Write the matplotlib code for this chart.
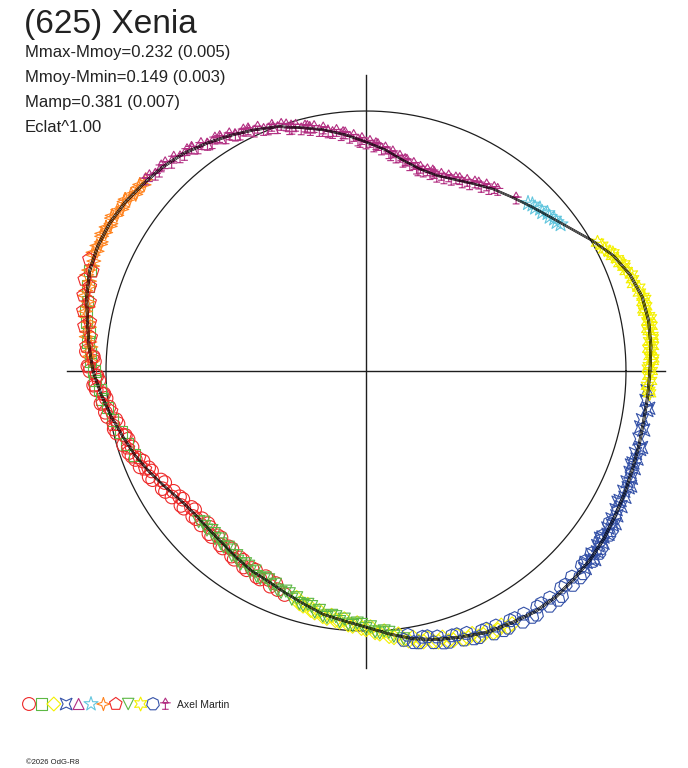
import numpy as np
import matplotlib
matplotlib.use("Agg")
import matplotlib.pyplot as plt
from matplotlib.path import Path

plt.rcParams['font.family'] = ['Liberation Sans', 'DejaVu Sans']

# ---------------- texts ----------------
title = "(625) Xenia"
stats_lines = ["Mmax-Mmoy=0.232 (0.005)", "Mmoy-Mmin=0.149 (0.003)",
               "Mamp=0.381 (0.007)", "Eclat^1.00"]
observer = "Axel Martin"
credit = "\u00a92026 OdG-R8"

# ---------------- fit curve (relative flux vs phase angle, deg) ----------------
fit_phase_deg = [0, 5, 10, 15, 20, 25, 30, 35, 40, 45, 50, 55, 60, 65, 70, 75, 80, 85,
                 90, 95, 100, 105, 110, 115, 120, 125, 130, 135, 140, 145, 150, 155, 160, 165,
                 170, 175, 180, 185, 190, 195, 200, 205, 210, 215, 220, 225, 230, 235, 240, 245,
                 250, 255, 260, 265, 270, 275, 280, 285, 290, 295, 300, 305, 310, 315, 320, 325,
                 330, 335, 340, 345, 350, 355]
fit_flux = [1.092, 1.100, 1.104, 1.100, 1.081, 1.050, 1.004, 0.958, 0.923, 0.896, 0.873, 0.854,
            0.831, 0.812, 0.800, 0.804, 0.823, 0.854, 0.881, 0.912, 0.942, 0.969, 1.000, 1.023,
            1.046, 1.069, 1.092, 1.108, 1.119, 1.131, 1.138, 1.138, 1.131, 1.112, 1.088, 1.069,
            1.050, 1.023, 0.996, 0.969, 0.946, 0.919, 0.892, 0.869, 0.858, 0.858, 0.862, 0.873,
            0.885, 0.892, 0.908, 0.927, 0.950, 0.965, 0.985, 1.015, 1.046, 1.069, 1.088, 1.108,
            1.119, 1.131, 1.135, 1.131, 1.127, 1.119, 1.108, 1.100, 1.092, 1.088, 1.085, 1.088]
fit_err = 0.004

# ---------------- sessions ----------------
s1_phase = [176, 178, 180, 182, 183, 185, 187, 188, 190, 192, 193, 195, 197, 198, 200, 202, 203,
            205, 207, 208, 210, 212, 213, 215, 217, 218, 220, 222, 223, 225, 227, 228, 230, 232,
            234, 236, 238, 240, 242, 245, 248,
            177, 179, 181, 184, 186, 189, 191, 194, 196, 199, 201, 204, 206, 209, 211, 214, 216,
            219, 221, 224, 226, 229, 231, 233, 235, 237, 239, 241, 243, 244, 246, 247, 250]
s1_flux = [1.078, 1.045, 1.062, 1.028, 1.049, 1.012, 1.027, 0.998, 1.010, 0.975, 0.994, 0.958,
           0.975, 0.946, 0.958, 0.925, 0.944, 0.910, 0.921, 0.893, 0.905, 0.873, 0.890, 0.860,
           0.877, 0.852, 0.870, 0.849, 0.868, 0.850, 0.871, 0.853, 0.873, 0.858, 0.880, 0.867,
           0.889, 0.877, 0.896, 0.885, 0.907,
           1.050, 1.070, 1.035, 1.040, 1.005, 1.015, 0.980, 0.988, 0.952, 0.965, 0.950, 0.915,
           0.928, 0.885, 0.900, 0.865, 0.880, 0.848, 0.866, 0.845, 0.870, 0.850, 0.876, 0.857,
           0.884, 0.868, 0.892, 0.876, 0.898, 0.880, 0.906, 0.888, 0.915]

s2_phase = [160, 163, 166, 168, 170, 172, 174, 176, 178, 180, 182, 184, 186, 188, 191, 194, 197, 200]
s2_flux = [1.130, 1.118, 1.104, 1.102, 1.092, 1.076, 1.075, 1.062, 1.060, 1.046, 1.042, 1.026,
           1.020, 1.004, 0.993, 0.972, 0.960, 0.948]

s3_phase = [253, 255, 256, 258, 259, 261, 262, 264, 265, 267, 268, 270, 271, 273, 274, 276, 277,
            279, 280, 282, 283, 285, 286, 288, 289, 291, 292, 294, 295, 297, 298, 300,
            254, 257, 260, 263, 266, 269, 272, 275, 278, 281, 284, 287, 290, 293, 296, 299]
s3_flux = [0.912, 0.935, 0.926, 0.950, 0.940, 0.962, 0.950, 0.970, 0.958, 0.982, 0.970, 0.994,
           0.985, 1.012, 1.003, 1.030, 1.020, 1.050, 1.040, 1.064, 1.054, 1.078, 1.066, 1.089,
           1.077, 1.100, 1.090, 1.111, 1.101, 1.119, 1.108, 1.124,
           0.930, 0.944, 0.958, 0.966, 0.978, 0.989, 1.006, 1.024, 1.043, 1.060, 1.073, 1.086,
           1.097, 1.109, 1.119, 1.126]

s4_phase = [318, 319, 320, 321, 322, 323, 324, 325, 326, 327, 328, 329, 330, 331, 332, 333, 334,
            335, 336, 337, 338, 339, 340, 341, 342, 343, 344, 346, 348, 350, 352, 354,
            320.5, 324.5, 328.5, 332.5, 336.5, 340.5, 344.5, 348.5, 352.5, 356]
s4_flux = [1.135, 1.122, 1.131, 1.119, 1.130, 1.116, 1.127, 1.113, 1.123, 1.109, 1.118, 1.104,
           1.114, 1.100, 1.111, 1.097, 1.108, 1.094, 1.104, 1.091, 1.101, 1.088, 1.098, 1.086,
           1.096, 1.084, 1.095, 1.082, 1.092, 1.080, 1.091, 1.083,
           1.140, 1.108, 1.124, 1.093, 1.110, 1.083, 1.100, 1.078, 1.097, 1.084]

s5_phase = [99, 103, 107, 111, 116, 119, 122, 125, 128]
s5_flux = [0.936, 0.962, 0.986, 1.002, 1.030, 1.040, 1.057, 1.066, 1.087]

s6_phase = [37, 38, 39, 40, 41, 42, 43, 44, 45, 46]
s6_flux = [0.937, 0.930, 0.931, 0.922, 0.925, 0.912, 0.915, 0.904, 0.905, 0.897]

s7_phase = [139, 140, 141, 142, 143, 144, 145, 146, 147, 148, 149, 150, 151, 152, 153, 154, 155,
            156, 157, 158, 160, 162, 164, 166, 168, 170, 172, 174, 176, 178,
            140.5, 142.5, 144.5, 146.5, 148.5, 150.5, 152.5, 154.5, 156.5, 159, 161, 163, 165,
            167, 169, 171, 173, 175, 177]
s7_flux = [1.122, 1.114, 1.125, 1.119, 1.131, 1.124, 1.136, 1.128, 1.139, 1.130, 1.142, 1.133,
           1.143, 1.134, 1.141, 1.133, 1.142, 1.132, 1.140, 1.129, 1.135, 1.118, 1.121, 1.102,
           1.103, 1.083, 1.085, 1.068, 1.070, 1.054,
           1.128, 1.116, 1.138, 1.126, 1.145, 1.130, 1.146, 1.131, 1.145, 1.126, 1.136, 1.112,
           1.120, 1.096, 1.100, 1.077, 1.084, 1.062, 1.066]

s8_phase = [158, 160, 162, 163, 165, 166, 168, 170, 171, 173, 175, 177, 179, 181, 183, 185, 187,
            189, 192, 195, 198, 201, 204]
s8_flux = [1.148, 1.120, 1.138, 1.110, 1.125, 1.095, 1.112, 1.078, 1.097, 1.066, 1.080, 1.052,
           1.066, 1.036, 1.045, 1.013, 1.021, 0.992, 0.994, 0.960, 0.962, 0.934, 0.930]

s9_phase = [222, 223, 225, 226, 228, 229, 231, 232, 234, 235, 237, 238, 240, 241, 243, 244, 246,
            247, 249, 250, 252, 253, 255, 256, 258, 259, 261, 262, 264, 265, 267, 268, 270, 271,
            273, 274, 276,
            224, 227, 230, 233, 236, 239, 242, 245, 248, 251, 254, 257, 260, 263, 266, 269, 272,
            275, 278]
s9_flux = [0.866, 0.852, 0.865, 0.853, 0.868, 0.856, 0.871, 0.860, 0.878, 0.867, 0.885, 0.874,
           0.892, 0.880, 0.896, 0.885, 0.902, 0.891, 0.912, 0.901, 0.923, 0.912, 0.934, 0.925,
           0.948, 0.938, 0.960, 0.949, 0.969, 0.958, 0.980, 0.970, 0.991, 0.984, 1.009, 1.002,
           1.026,
           0.862, 0.855, 0.868, 0.862, 0.882, 0.876, 0.895, 0.886, 0.909, 0.906, 0.930, 0.930,
           0.957, 0.952, 0.976, 0.975, 1.004, 1.009, 1.040]

s10_phase = [356, 357, 358, 359, 0, 1, 2, 3, 4, 5, 6, 7, 8, 9, 10, 11, 12, 13, 14, 15, 16, 17,
             19, 20, 21, 22, 23, 24, 25, 26, 27, 28,
             355.5, 0.5, 2.5, 4.5, 6.5, 8.5, 10.5, 12.5, 14.5, 18, 22.5, 25.5, 29]
s10_flux = [1.090, 1.084, 1.095, 1.088, 1.097, 1.090, 1.102, 1.094, 1.099, 1.106, 1.097, 1.108,
            1.100, 1.110, 1.101, 1.107, 1.096, 1.104, 1.098, 1.103, 1.094, 1.097, 1.084, 1.086,
            1.072, 1.070, 1.061, 1.058, 1.046, 1.043, 1.030, 1.027,
            1.094, 1.086, 1.104, 1.091, 1.108, 1.096, 1.112, 1.095, 1.107, 1.082, 1.073, 1.052,
            1.018]

s11_phase = [278, 279, 281, 282, 284, 285, 287, 288, 290, 291, 293, 294, 296, 297, 299, 300, 302,
             303, 305, 306, 308, 309, 311, 312, 314, 315, 317, 318, 320, 321, 323, 324, 326, 328,
             280, 283, 286, 289, 292, 295, 298, 301, 304, 307, 310, 313, 316, 319, 322, 325, 327]
s11_flux = [1.045, 1.028, 1.064, 1.046, 1.076, 1.058, 1.090, 1.070, 1.100, 1.080, 1.113, 1.094,
            1.124, 1.100, 1.130, 1.108, 1.138, 1.114, 1.145, 1.121, 1.147, 1.123, 1.148, 1.122,
            1.145, 1.120, 1.142, 1.118, 1.138, 1.116, 1.133, 1.112, 1.128, 1.104,
            1.060, 1.048, 1.087, 1.072, 1.110, 1.095, 1.130, 1.110, 1.142, 1.120, 1.150, 1.125,
            1.144, 1.117, 1.138, 1.108, 1.126]

s12_phase = [49, 54, 56, 57, 58, 60, 61, 62, 63, 64, 66, 67, 68, 69, 70, 71, 72, 73, 74, 75, 76,
             77, 78, 79, 80, 81, 82, 83, 84, 85, 86, 87, 88, 89, 90, 91, 92, 93, 94, 95, 96, 97,
             98, 100, 101, 102, 103, 104, 105, 106, 107, 108, 110, 111, 112, 114, 115, 117, 118,
             120, 121, 123, 124, 126, 127, 129, 130, 132, 133, 135, 136, 138,
             55, 59, 65, 71.5, 75.5, 79.5, 83.5, 87.5, 91.5, 95.5, 99, 103.5, 107.5, 109, 113,
             116, 119, 122, 125, 128, 131, 134, 137, 139]
s12_flux = [0.880, 0.862, 0.845, 0.852, 0.836, 0.838, 0.822, 0.829, 0.815, 0.822, 0.806, 0.814,
            0.800, 0.809, 0.796, 0.806, 0.797, 0.808, 0.799, 0.810, 0.803, 0.818, 0.810, 0.825,
            0.818, 0.835, 0.830, 0.848, 0.843, 0.860, 0.855, 0.871, 0.865, 0.882, 0.876, 0.893,
            0.888, 0.906, 0.900, 0.918, 0.913, 0.931, 0.925, 0.948, 0.941, 0.960, 0.952, 0.970,
            0.963, 0.982, 0.975, 0.994, 0.995, 1.011, 1.003, 1.025, 1.017, 1.039, 1.031, 1.052,
            1.045, 1.067, 1.058, 1.080, 1.073, 1.094, 1.086, 1.105, 1.096, 1.114, 1.105, 1.121,
            0.860, 0.842, 0.818, 0.810, 0.798, 0.826, 0.836, 0.874, 0.882, 0.920, 0.930, 0.966,
            0.976, 1.002, 1.008, 1.035, 1.036, 1.062, 1.063, 1.090, 1.090, 1.112, 1.108, 1.124]

# ---------------- marker shapes ----------------
concave_sq = Path([(0.8, 0.8), (0, 0.42), (-0.8, 0.8), (-0.42, 0), (-0.8, -0.8), (0, -0.42),
                   (0.8, -0.8), (0.42, 0), (0.8, 0.8)])
sparkle = Path([(0, 1), (0.25, 0.25), (1, 0), (0.25, -0.25), (0, -1), (-0.25, -0.25),
                (-1, 0), (-0.25, 0.25), (0, 1)])
tree = Path([(-0.45, 0.2), (0.45, 0.2), (0, 1.0), (-0.45, 0.2),
             (-0.9, 0.2), (0.9, 0.2),
             (0, 0.2), (0, -0.9),
             (-0.55, -0.9), (0.55, -0.9)],
            [Path.MOVETO, Path.LINETO, Path.LINETO, Path.LINETO,
             Path.MOVETO, Path.LINETO,
             Path.MOVETO, Path.LINETO,
             Path.MOVETO, Path.LINETO])

RED, GREEN, YELLOW, BLUE = '#ee2a2a', '#5cb844', '#f4f000', '#3552a8'
MAG, CYAN, ORANGE = '#b22f82', '#62c6de', '#ff8420'

sessions = [
    (s1_phase, s1_flux, RED, 'o', 95),
    (s2_phase, s2_flux, GREEN, 's', 70),
    (s3_phase, s3_flux, YELLOW, 'D', 55),
    (s4_phase, s4_flux, BLUE, concave_sq, 80),
    (s5_phase, s5_flux, MAG, '^', 70),
    (s6_phase, s6_flux, CYAN, '*', 125),
    (s7_phase, s7_flux, ORANGE, sparkle, 100),
    (s8_phase, s8_flux, RED, 'p', 100),
    (s9_phase, s9_flux, GREEN, 'v', 75),
    (s10_phase, s10_flux, YELLOW, (6, 1, 0), 110),
    (s11_phase, s11_flux, BLUE, (7, 0, 0), 95),
    (s12_phase, s12_flux, MAG, tree, 80),
]

# ---------------- figure ----------------
W, H = 688, 768
fig = plt.figure(figsize=(W / 100, H / 100), dpi=100)
cx, cy, R = 366, 371, 260.0
ax = fig.add_axes([0, 0, 1, 1])
ax.set_xlim(-cx / R, (W - cx) / R)
ax.set_ylim((cy - H) / R, cy / R)
ax.set_aspect('equal')
ax.axis('off')

ink = '#1e1e1e'
ax.plot([-1.15, 1.15], [0, 0], color=ink, lw=1.0, zorder=1)
ax.plot([0, 0], [-1.142, 1.138], color=ink, lw=1.0, zorder=1)
t = np.linspace(0, 2 * np.pi, 400)
ax.plot(np.cos(t), np.sin(t), color=ink, lw=0.9, zorder=1)

for ph, fl, col, mk, sz in sessions:
    a = np.deg2rad(np.array(ph, dtype=float))
    r = np.array(fl)
    ax.scatter(r * np.cos(a), r * np.sin(a), s=sz, marker=mk, facecolors='none',
               edgecolors=col, linewidths=0.8, zorder=2)

fa = np.deg2rad(np.array(fit_phase_deg + [fit_phase_deg[0]], dtype=float))
fr = np.array(fit_flux + [fit_flux[0]])
for k in (-1, 0, 1):
    rr = fr * (1 + k * fit_err)
    ax.plot(rr * np.cos(fa), rr * np.sin(fa), color='black', lw=0.5, zorder=3)

# ---------------- texts & legend (overlay in pixel coords) ----------------
ov = fig.add_axes([0, 0, 1, 1])
ov.set_xlim(0, W)
ov.set_ylim(H, 0)
ov.axis('off')
ov.patch.set_alpha(0)

ov.text(24, 33, title, fontsize=24, color='#222222', va='baseline', ha='left')
for i, line in enumerate(stats_lines):
    ov.text(25, 57 + 25 * i, line, fontsize=12, color='#222222', va='baseline', ha='left')

for i, (ph, fl, col, mk, sz) in enumerate(sessions):
    ov.scatter([29 + 12.4 * i], [704], s=sz * 0.9, marker=mk, facecolors='none',
               edgecolors=col, linewidths=0.8)
ov.text(177, 708, observer, fontsize=7.5, color='#222222', va='baseline', ha='left')
ov.text(26, 764, credit, fontsize=5.5, color='#222222', va='baseline', ha='left')

fig.savefig('out.png', dpi=100)
